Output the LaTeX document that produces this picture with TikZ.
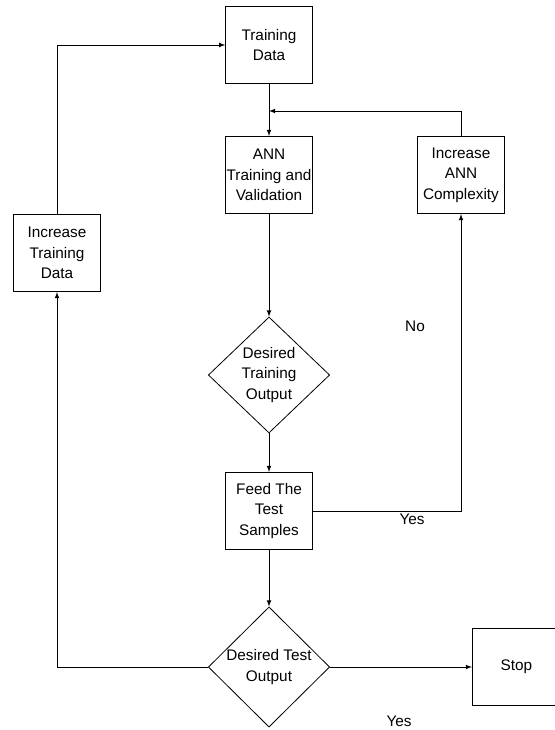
\documentclass[tikz,border=0pt]{standalone}
\usepackage{fontspec}
\setmainfont{Liberation Sans}
\usetikzlibrary{shapes.geometric, arrows}

\tikzstyle{block} = [rectangle, minimum width=65pt, minimum height=58pt, inner sep=1pt, align=center, draw=black]
\tikzstyle{decision} = [diamond, aspect=1, minimum width=91pt, minimum height=87pt, inner sep=0pt, align=center, draw=black]
\tikzstyle{arrow} = [->,>=latex]
\tikzstyle{answer} = [inner sep=0pt]

\begin{document}
\begin{tikzpicture}[x=0.75pt, y=-0.75pt, node distance=97.5pt, line width=0.6pt,
  every node/.style={font=\fontsize{11.5pt}{15.5pt}\selectfont}]
\useasboundingbox (0,0) rectangle (555,730);

% Nodes
\node (train) [block] at (269,45) {Training\\Data};
\node (anntrain) [block, below of=train] {ANN\\Training and\\Validation};
\node (destrain) [decision, below of=anntrain, yshift=-52.5pt] {Desired\\Training\\Output};
\node (feed) [block, below of=destrain, yshift=-4.5pt] {Feed The\\Test\\Samples};
\node (destest) [decision, below of=feed, yshift=-19.5pt, minimum height=88pt] {Desired Test\\Output};
\node (incann) [block, right of=anntrain, xshift=46.5pt] {Increase\\ANN\\Complexity};
\node (inctrain) [block, left of=anntrain, xshift=-61.5pt, yshift=-58.5pt] {Increase\\Training\\Data};
\node (stop) [block, right of=destest, xshift=88pt, minimum width=66pt] {Stop};
\coordinate (merge) at (269,111);

% Labels
\node (no) [answer] at (415,326) {No};
\node (yes1) [answer] at (412,519) {Yes};
\node (yes2) [answer] at (399,721) {Yes};

% Arrows down the main line
\draw [arrow] (train) -- (anntrain);
\draw [arrow] (anntrain) -- (destrain);
\draw [arrow] (destrain) -- (feed);
\draw [arrow] (feed) -- (destest);
\draw [arrow] (destest) -- (stop);

% Loops back
\draw [arrow] (feed.east) -| (incann.south);
\draw [arrow] (incann.north) |- (merge);
\draw [arrow] (destest.west) -| (inctrain.south);
\draw [arrow] (inctrain.north) |- (train.west);

\end{tikzpicture}
\end{document}
